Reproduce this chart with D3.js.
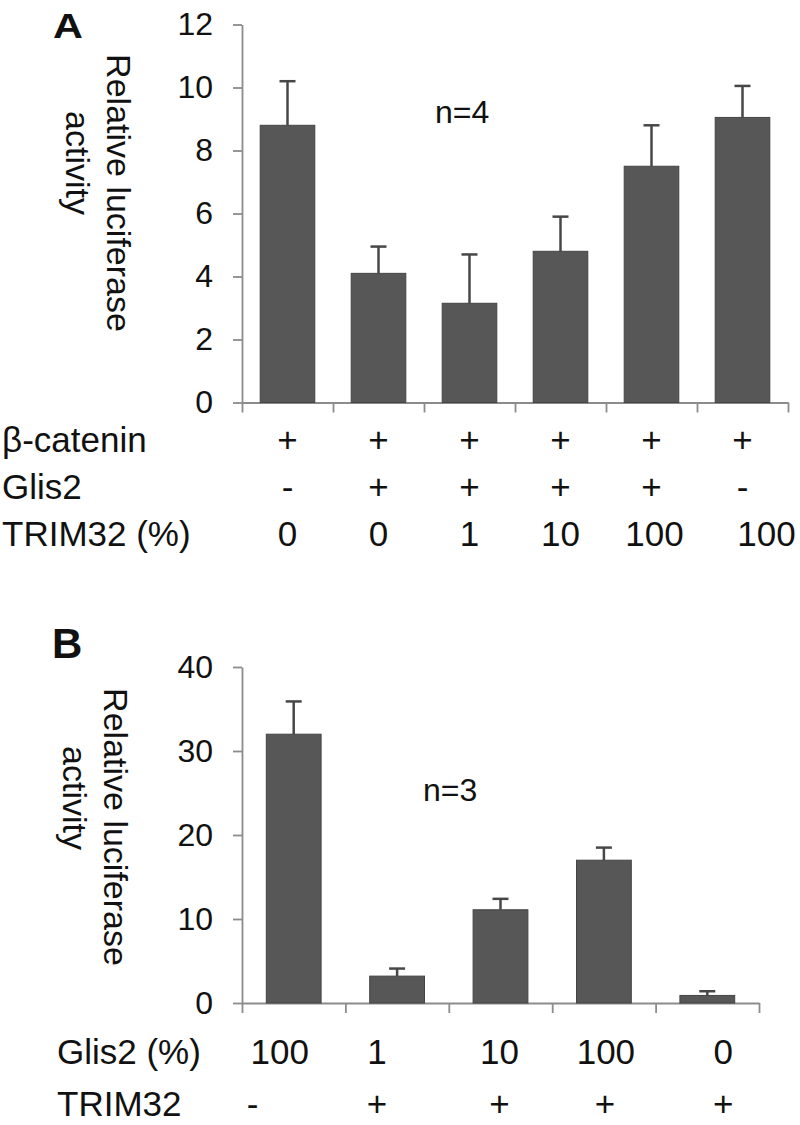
<!DOCTYPE html>
<html>
<head>
<meta charset="utf-8">
<script src="https://cdn.jsdelivr.net/npm/d3@7"></script>
<style>
  html, body { margin: 0; padding: 0; background: #fff; }
  svg { display: block; }
  text { font-family: "Liberation Sans", Arial, sans-serif; fill: #111; }
</style>
</head>
<body>
<svg id="chart" width="800" height="1125"></svg>
<script>
// ---------- Data: panel A ----------
const betaCateninRow = ['+', '+', '+', '+', '+', '+'];
const glis2RowA = ['-', '+', '+', '+', '+', '-'];
const trim32PctRow = ['0', '0', '1', '10', '100', '100'];
const valuesA = [8.8, 4.1, 3.15, 4.8, 7.5, 9.05];
const errorsA = [1.4, 0.85, 1.55, 1.1, 1.3, 1.0];
const ticksA = [0, 2, 4, 6, 8, 10, 12];

// ---------- Data: panel B ----------
const glis2PctRow = ['100', '1', '10', '100', '0'];
const trim32RowB = ['-', '+', '+', '+', '+'];
const valuesB = [32.0, 3.2, 11.1, 17.0, 0.9];
const errorsB = [3.9, 0.9, 1.3, 1.5, 0.5];
const ticksB = [0, 10, 20, 30, 40];

// ---------- Layout (label nudges relative to category centres, px) ----------
const nudgeA = [[0, 0, 0, 0, 0, 0], [0, 0, 0, 0, 0, 0], [0, 0, 0, 0, 3, 24]];
const nudgeB = [[-14, -20, -1, 2, 16], [-41, -20, -1, 1, 16]];

const svg = d3.select('#chart');
const AXIS = '#8c8c8c';
const BAR = '#575757';
const ERR = '#474747';

function panel(cfg) {
  const n = cfg.values.length;
  const g = svg.append('g');
  const y = d3.scaleLinear().domain(cfg.yDomain).range([cfg.y0, cfg.y1]);
  const xb = d3.scaleBand().domain(d3.range(n)).range([cfg.x0, cfg.x1]).paddingInner(0).paddingOuter(0);
  const xe = d3.scaleLinear().domain([0, n]).range([cfg.x0, cfg.x1]);

  // y axis
  const ya = g.append('g').attr('transform', `translate(${cfg.x0},0)`)
    .call(d3.axisLeft(y).tickValues(cfg.ticks).tickSize(9).tickSizeOuter(0).tickPadding(20));
  ya.select('.domain').attr('stroke', AXIS).attr('stroke-width', 1.8);
  ya.selectAll('.tick line').attr('stroke', AXIS).attr('stroke-width', 1.8);
  ya.selectAll('.tick text').attr('font-size', 32).attr('font-family', '"Liberation Sans", Arial, sans-serif').attr('fill', '#111');

  // x axis (ticks at category boundaries)
  const xa = g.append('g').attr('transform', `translate(0,${cfg.y0})`)
    .call(d3.axisBottom(xe).tickValues(d3.range(n + 1)).tickSize(10).tickSizeOuter(0).tickFormat(''));
  xa.select('.domain').attr('stroke', AXIS).attr('stroke-width', 1.8);
  xa.selectAll('.tick line').attr('stroke', AXIS).attr('stroke-width', 1.8);

  const bw = xb.bandwidth() * cfg.barFrac;
  // bars
  g.selectAll('rect.bar').data(cfg.values).join('rect')
    .attr('class', 'bar')
    .attr('x', (d, i) => xb(i) + (xb.bandwidth() - bw) / 2)
    .attr('width', bw)
    .attr('y', d => y(d))
    .attr('height', d => y(0) - y(d))
    .attr('fill', BAR).attr('stroke', '#444').attr('stroke-width', 1);

  // error bars
  const eg = g.selectAll('g.err').data(cfg.values).join('g').attr('class', 'err');
  eg.append('line')
    .attr('x1', (d, i) => xb(i) + xb.bandwidth() / 2)
    .attr('x2', (d, i) => xb(i) + xb.bandwidth() / 2)
    .attr('y1', d => y(d))
    .attr('y2', (d, i) => y(d + cfg.errors[i]))
    .attr('stroke', ERR).attr('stroke-width', 2.5);
  eg.append('line')
    .attr('x1', (d, i) => xb(i) + xb.bandwidth() / 2 - 8)
    .attr('x2', (d, i) => xb(i) + xb.bandwidth() / 2 + 8)
    .attr('y1', (d, i) => y(d + cfg.errors[i]))
    .attr('y2', (d, i) => y(d + cfg.errors[i]))
    .attr('stroke', ERR).attr('stroke-width', 2.5);

  // y title (two lines, rotated)
  cfg.title.forEach(t => {
    g.append('text')
      .attr('transform', `translate(${t.x},${t.y}) rotate(90)`)
      .attr('text-anchor', 'middle')
      .attr('font-size', 34)
      .text(t.text);
  });

  // n= label
  g.append('text').attr('x', cfg.nx).attr('y', cfg.ny).attr('font-size', 32).text(cfg.nLabel);

  // panel letter
  g.append('text')
    .attr('transform', `translate(${cfg.letterX},${cfg.letterY}) scale(${cfg.letterStretch},1)`)
    .attr('font-size', cfg.letterSize).attr('font-weight', 'bold').attr('fill', '#000')
    .text(cfg.letter);

  // condition rows
  cfg.rows.forEach((r, ri) => {
    g.append('text').attr('x', cfg.rowLabelX).attr('y', r.y).attr('font-size', 35).text(r.label);
    g.selectAll(null).data(r.values).join('text')
      .attr('x', (d, i) => xb(i) + xb.bandwidth() / 2 + cfg.nudge[ri][i])
      .attr('y', r.y)
      .attr('text-anchor', 'middle')
      .attr('font-size', 35)
      .text(d => d);
  });
}

panel({
  values: valuesA, errors: errorsA, ticks: ticksA, yDomain: [0, 12],
  x0: 242, x1: 788, y0: 402.5, y1: 24.5, barFrac: 0.6,
  title: [{ text: 'Relative luciferase', x: 107, y: 193 }, { text: 'activity', x: 66, y: 163 }],
  nLabel: 'n=4', nx: 435, ny: 123,
  letter: 'A', letterX: 53, letterY: 38, letterSize: 36, letterStretch: 1.15,
  rowLabelX: 2, nudge: nudgeA,
  rows: [
    { label: 'β-catenin', values: betaCateninRow, y: 452 },
    { label: 'Glis2', values: glis2RowA, y: 499 },
    { label: 'TRIM32 (%)', values: trim32PctRow, y: 546 }
  ]
});

panel({
  values: valuesB, errors: errorsB, ticks: ticksB, yDomain: [0, 40],
  x0: 242, x1: 759, y0: 1003, y1: 667, barFrac: 0.53,
  title: [{ text: 'Relative luciferase', x: 104, y: 827 }, { text: 'activity', x: 63, y: 798 }],
  nLabel: 'n=3', nx: 423, ny: 801,
  letter: 'B', letterX: 52, letterY: 658, letterSize: 42, letterStretch: 1,
  rowLabelX: 57, nudge: nudgeB,
  rows: [
    { label: 'Glis2 (%)', values: glis2PctRow, y: 1064 },
    { label: 'TRIM32', values: trim32RowB, y: 1116 }
  ]
});
</script>
</body>
</html>
